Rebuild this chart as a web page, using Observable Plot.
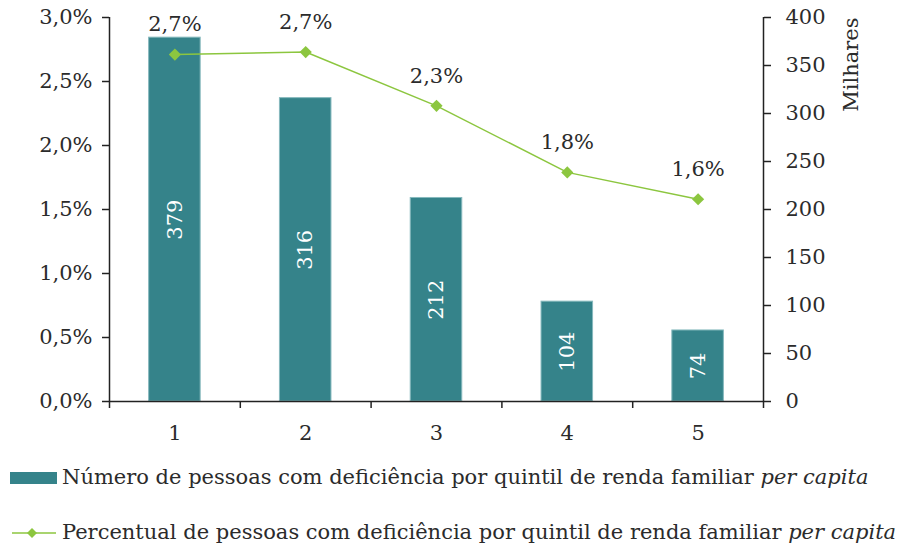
<!DOCTYPE html>
<html><head><meta charset="utf-8">
<script src="https://cdn.jsdelivr.net/npm/d3@7"></script>
<script src="https://cdn.jsdelivr.net/npm/@observablehq/plot@0.6"></script>
<style>
body{margin:0;background:#fff;font-family:"DejaVu Serif",serif;color:#2b2b2b;width:900px;height:550px;overflow:hidden;position:relative}
#chart{position:absolute;left:0;top:0}
.leg{position:absolute;left:0;font-size:21px;white-space:nowrap;line-height:1}
.leg svg{position:absolute}
.leg span{position:absolute;left:62px}
</style></head><body>
<div id="chart"></div>
<div class="leg" style="top:0">
  <svg style="left:10px;top:472px" width="47" height="12"><rect x="0" y="0" width="47" height="12" fill="#35838a"/></svg>
  <span style="top:467px">Número de pessoas com deficiência por quintil de renda familiar <i>per capita</i></span>
  <svg style="left:10px;top:526px" width="48" height="14"><line x1="2" y1="7" x2="46" y2="7" stroke="#8cc63f" stroke-width="1.5"/><path d="M22,2 L27,7 L22,12 L17,7 Z" fill="#8cc63f"/></svg>
  <span style="top:522px">Percentual de pessoas com deficiência por quintil de renda familiar <i>per capita</i></span>
</div>
<script>
const quintis = [1, 2, 3, 4, 5];
const pessoas = [379, 316, 212, 104, 74]; // milhares
const percentual = [2.71, 2.73, 2.31, 1.79, 1.58];
const percentLabels = ["2,7%", "2,7%", "2,3%", "1,8%", "1,6%"];
const leftTicks = [0, 0.5, 1.0, 1.5, 2.0, 2.5, 3.0];
const rightTicks = [0, 50, 100, 150, 200, 250, 300, 350, 400];

const k = 3 / 400; // milhares -> escala percentual
const data = quintis.map((q, i) => ({q, n: pessoas[i], p: percentual[i], lbl: percentLabels[i]}));
const xBounds = d3.range(0.5, 6, 1);

const chart = Plot.plot({
  width: 900, height: 445,
  marginLeft: 109, marginRight: 137, marginTop: 17, marginBottom: 44,
  x: {domain: [0.5, 5.5], axis: null},
  y: {domain: [0, 3], axis: null},
  style: {fontFamily: "DejaVu Serif", fontSize: "21px", color: "#2b2b2b", background: "white"},
  marks: [
    Plot.rectY(data, {x1: d => d.q - 0.197, x2: d => d.q + 0.197, y: d => d.n * k, fill: "#35838a", stroke: "#86b9bd", strokeWidth: 1}),
    Plot.text(data, {x: "q", y: d => d.n * k / 2, text: d => String(d.n), rotate: -90, fill: "white", fontSize: 21}),
    Plot.line(data, {x: "q", y: "p", stroke: "#8cc63f", strokeWidth: 1.5}),
    Plot.dot(data, {x: "q", y: "p", symbol: "diamond2", r: 5.5, fill: "#8cc63f", stroke: "none"}),
    Plot.text(data, {x: "q", y: "p", text: "lbl", dy: -30, fontSize: 21, fill: "#2b2b2b"}),
    Plot.ruleX([0.5, 5.5], {stroke: "#222", strokeWidth: 1.5}),
    Plot.ruleY([0], {stroke: "#222", strokeWidth: 1.5}),
    Plot.axisY(leftTicks, {anchor: "left", tickFormat: d => d.toFixed(1).replace(".", ",") + "%", tickSize: 7, tickPadding: 10, label: null, stroke: "#222", strokeWidth: 1.5, fontSize: 21}),
    Plot.axisY(rightTicks.map(v => v * k), {anchor: "right", tickFormat: d => String(Math.round(d / k)), tickSize: 7, tickPadding: 15, label: null, stroke: "#222", strokeWidth: 1.5, fontSize: 21}),
    Plot.axisX(xBounds, {tickFormat: () => "", tickSize: 7, label: null, stroke: "#222", strokeWidth: 1.5}),
    Plot.text(quintis, {x: d => d, y: 0, dy: 32, text: d => String(d), fill: "#2b2b2b", fontSize: 21}),
    Plot.text(["Milhares"], {frameAnchor: "top-right", rotate: -90, textAnchor: "end", dx: 80, text: d => d, fill: "#2b2b2b", fontSize: 21})
  ]
});
document.getElementById("chart").appendChild(chart);
</script>
</body></html>
